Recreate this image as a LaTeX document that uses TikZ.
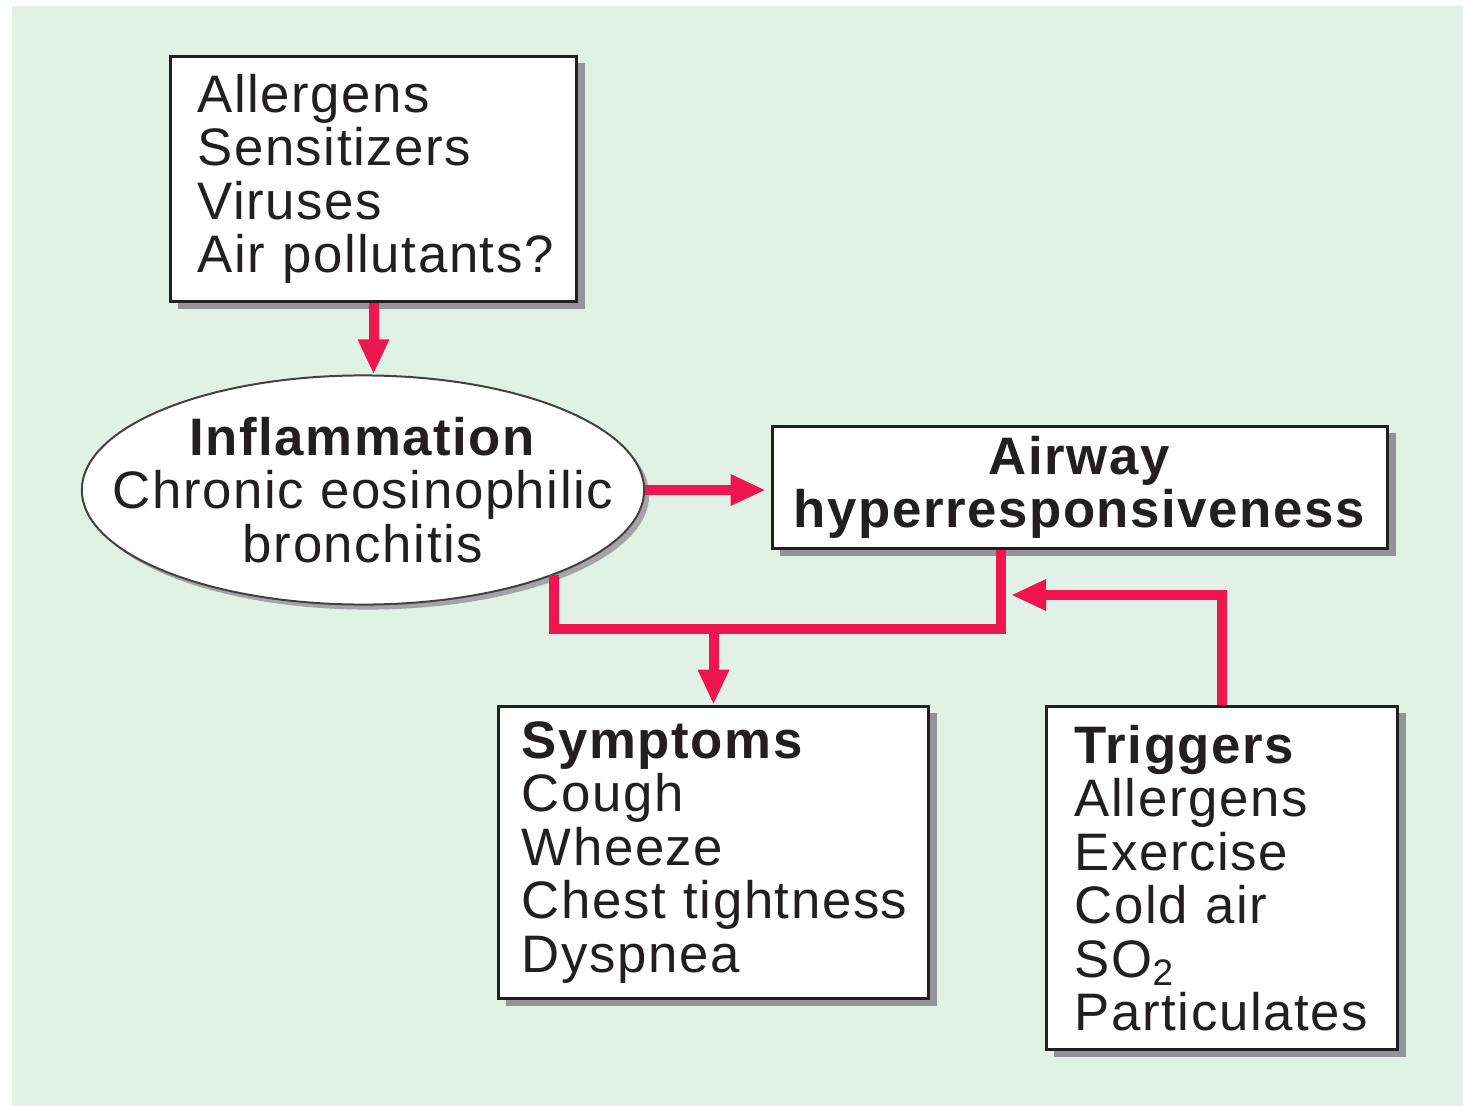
\documentclass[tikz,border=0pt]{standalone}
\usepackage{fontspec}
\setmainfont{Liberation Sans}[LetterSpace=3]
\usetikzlibrary{shapes.geometric,shadows,arrows.meta}

\definecolor{panel}{HTML}{E2F1E6}
\definecolor{crimson}{HTML}{EE1651}
\definecolor{boxline}{HTML}{231F20}
\definecolor{shade}{HTML}{939498}

\begin{document}
\begin{tikzpicture}[
    x=0.01cm, y=-0.01cm,
    every node/.style={
        font=\fontsize{15}{15.2}\selectfont,
        text=boxline,
    },
    box/.style n args={3}{
        draw=boxline, fill=white,
        rectangle,
        line width=0.033cm,
        minimum width=#1 cm,
        minimum height=#2 cm,
        text width=#3 cm,
        align=left,
        inner sep=0pt,
        execute at begin node={\hyphenpenalty=10000 },
        drop shadow={shadow xshift=0.08cm,shadow yshift=-0.07cm,fill=shade,opacity=1},
    },
    bubble/.style={
        ellipse,
        draw=boxline!85, fill=white,
        line width=0.02cm,
        minimum width=5.62cm,
        minimum height=2.29cm,
        inner xsep=-1cm,
        inner ysep=-0.5cm,
        align=center,
        drop shadow={shadow xshift=0.05cm,shadow yshift=-0.05cm,fill=shade!85,opacity=1},
    },
    link/.style={
        draw=crimson,
        line width=0.1cm,
    },
    tip/.style={
        -{Triangle[length=0.35cm,width=0.29cm]},
    },
]
    % ~~~ panel ~~~~~~~~~~~~~~~~~~~~~~~~~~~~~~~~~~~~~~~~~~~~~~~~~~~
    \useasboundingbox (0,0) rectangle (1463,1106);
    \fill[panel] (12,6) rectangle (1463,1106);

    % ~~~ boxes ~~~~~~~~~~~~~~~~~~~~~~~~~~~~~~~~~~~~~~~~~~~~~~~~~~~
    \node[box={4.06}{2.45}{3.52}] (src) at (373.5,179)
        {Allergens\\Sensitizers\\Viruses\\Air~pollutants?};
    \node[bubble] (ell) at (363,490)
        {\textbf{Inflammation}\\Chronic~eosinophilic\\bronchitis};
    \node[box={6.15}{1.22}{5.9},align=center] (air) at (1080,487.5)
        {\textbf{Airway}\\\textbf{hyperresponsiveness}};
    \node[box={4.30}{2.92}{3.83}] (sym) at (713.5,852.5)
        {\textbf{Symptoms}\\Cough\\Wheeze\\Chest~tightness\\Dyspnea};
    \node[box={3.51}{3.43}{2.94}] (trig) at (1222,878)
        {\textbf{Triggers}\\Allergens\\Exercise\\Cold~air\\SO\textsubscript{2}\\Particulates};

    % ~~~ connectors ~~~~~~~~~~~~~~~~~~~~~~~~~~~~~~~~~~~~~~~~~~~~~~
    \coordinate (bend) at (1001,629);
    \coordinate (entry) at (1011,595);
    \draw[link,tip] (src.south) -- (src.south |- ell.north);
    \draw[link,tip,shorten >=0.05cm] (ell.east) -- (ell.east -| air.west);
    \draw[link] (air.south -| bend) -- (bend) -| (ell.-24.6);
    \draw[link,tip] (sym.north |- bend) -- (sym.north);
    \draw[link,tip] (trig.north) |- (entry);
\end{tikzpicture}
\end{document}
